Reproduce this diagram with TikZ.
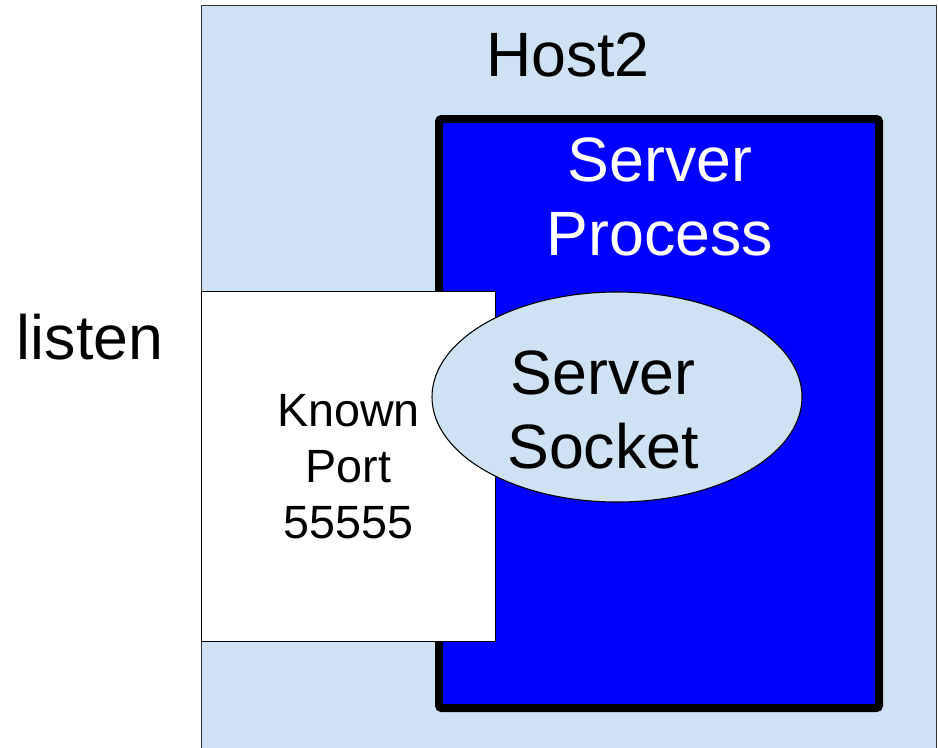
\documentclass[tikz,border=0pt]{standalone}
\usepackage{fontspec}
\setmainfont{Liberation Sans}
\usepackage{tikz}
\usetikzlibrary{shapes.geometric}

\definecolor{hostblue}{HTML}{CFE2F3}
\definecolor{procblue}{HTML}{0000FF}

\begin{document}
\begin{tikzpicture}[
    x=0.75pt, y=-0.75pt,
    hostbox/.style={draw=black!80, line width=0.8pt, fill=hostblue, minimum width=551.25pt, minimum height=570pt, anchor=north west, inner sep=0pt},
    procbox/.style={draw=black, line width=6pt, rounded corners=2pt, fill=procblue, minimum width=330pt, minimum height=441.75pt, inner sep=0pt},
    portbox/.style={draw=black, line width=0.8pt, fill=white, minimum width=221pt, minimum height=262pt, align=center, font=\fontsize{35}{42}\selectfont, inner sep=0pt},
    sockshape/.style={ellipse, draw=black, line width=0.8pt, fill=hostblue, minimum width=277.5pt, minimum height=157.5pt, inner sep=0pt},
    bigtext/.style={align=center, font=\fontsize{47}{56}\selectfont, inner sep=0pt}
]
    \useasboundingbox (0,0) rectangle (938,747);

    % Host
    \node[hostbox] (host) at (201,5) {};
    \node[bigtext] (hostlabel) at (568,55) {Host2};

    % Server process
    \node[procbox] (proc) at (659,413.5) {};
    \node[bigtext, text=white] (proclabel) at (660,197) {Server\\Process};

    % Known port
    \node[portbox] (port) at (348.5,466.5) {Known\\Port\\55555};

    % Server socket
    \node[sockshape] (sock) at (617,397) {};
    \node[bigtext] (socklabel) at (603,410) {Server\\Socket};

    % listen
    \node[bigtext] (listen) at (90,337) {listen};
\end{tikzpicture}
\end{document}
